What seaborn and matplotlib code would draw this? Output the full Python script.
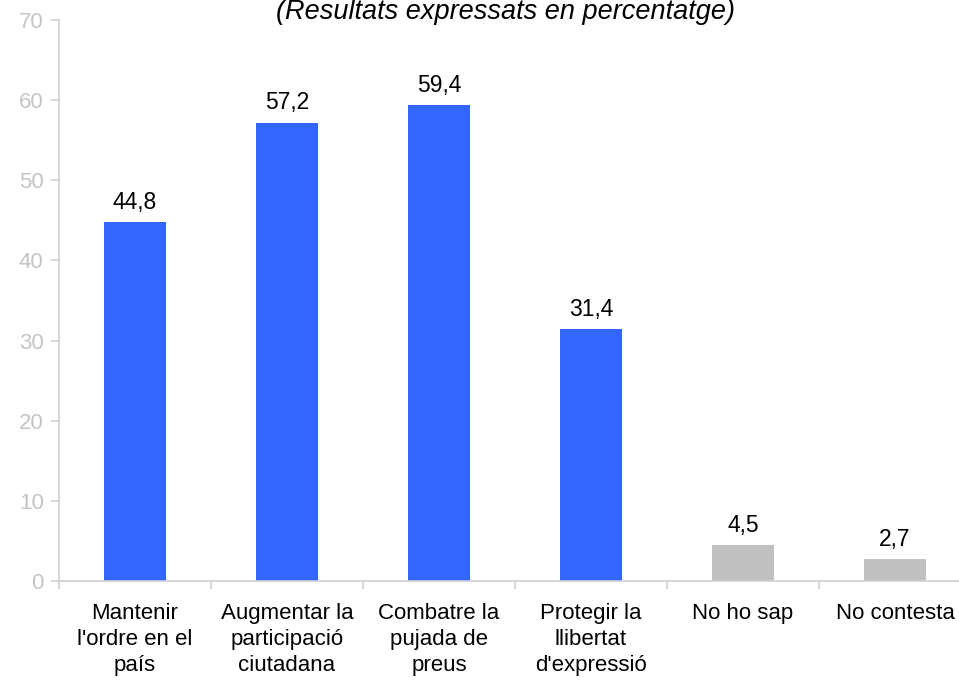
import matplotlib
matplotlib.use("Agg")
import matplotlib.pyplot as plt
import seaborn as sns
import pandas as pd

categories = ["Mantenir\nl'ordre en el\npaís", "Augmentar la\nparticipació\nciutadana",
              "Combatre la\npujada de\npreus", "Protegir la\nllibertat\nd'expressió",
              "No ho sap", "No contesta"]
values = [44.8, 57.2, 59.4, 31.4, 4.5, 2.7]
bar_colors = ["#3366FF", "#3366FF", "#3366FF", "#3366FF", "#C0C0C0", "#C0C0C0"]
y_ticks = [0, 10, 20, 30, 40, 50, 60, 70]
title = "(Resultats expressats en percentatge)"

sns.set_theme(style="white")
plt.rcParams['font.family'] = ['Liberation Sans', 'DejaVu Sans']

df = pd.DataFrame({"cat": categories, "val": values})

fig = plt.figure(figsize=(9.59, 6.8), dpi=100)
ax = fig.add_axes([59/959, 99/680, 912/959, 561/680])

sns.barplot(data=df, x="cat", y="val", hue="cat", palette=bar_colors,
            legend=False, width=0.41, ax=ax, saturation=1, linewidth=0)

ax.set_xlim(-0.5, len(categories) - 0.5)
ax.set_ylim(0, 70)
ax.set_yticks(y_ticks)
ax.set_yticklabels([str(t) for t in y_ticks])
ax.set_xlabel("")
ax.set_ylabel("")

for spine in ["top", "right"]:
    ax.spines[spine].set_visible(False)
for spine in ["left", "bottom"]:
    ax.spines[spine].set_color("#d0d0d0")
    ax.spines[spine].set_linewidth(1.2)

ax.tick_params(axis="y", colors="#d0d0d0", labelsize=16, length=6, width=1.2,
               direction="out", left=True, pad=5)
ax.tick_params(axis="y", labelcolor="#c4c4c4")
ax.tick_params(axis="x", which="major", length=0, labelsize=16, labelcolor="black", pad=16)
for lbl in ax.get_xticklabels():
    lbl.set_linespacing(1.32)
ax.set_xticks([i - 0.5 for i in range(len(categories) + 1)], minor=True)
ax.tick_params(axis="x", which="minor", length=6, width=1.2, color="#d0d0d0",
               direction="out", bottom=True)

for container in ax.containers:
    labels = [f"{v:.1f}".replace(".", ",") for v in container.datavalues]
    ax.bar_label(container, labels=labels, padding=6, fontsize=16.5, color="black")

fig.text(505/959, 1 - 12/680, title, ha="center", va="center",
         fontsize=19.5, style="italic", color="black")

fig.savefig("out.png", dpi=100)
